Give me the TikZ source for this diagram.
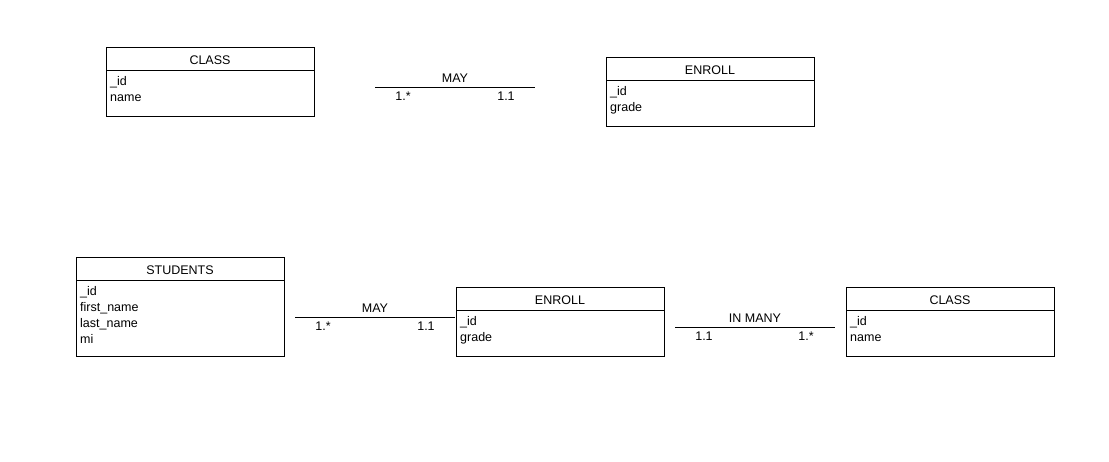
\documentclass[tikz,border=0pt]{standalone}
\usepackage{fontspec}
\setmainfont{Liberation Sans}
\begin{document}
\begin{tikzpicture}[x=1pt,y=-1pt,
  every node/.style={font=\fontsize{12.5}{15}\selectfont, inner sep=0pt},
  entity/.style={draw, line width=0.9pt, minimum width=208pt, anchor=north west, rectangle},
  divider/.style={line width=0.9pt},
  relline/.style={line width=0.9pt},
  title/.style={anchor=base},
  attr/.style={anchor=base west},
  card/.style={anchor=base}]
\useasboundingbox (0,0) rectangle (1109,461);
% top CLASS
\node[entity, minimum height=69pt] (c1) at (106,47) {};
\draw[divider] ([yshift=-23pt]c1.north west) -- ([yshift=-23pt]c1.north east);
\node[title] (c1t) at (210,64.5) {CLASS};
\node[attr] (c1a) at (110,85.5) {\_id};
\node[attr] (c1b) at (110,101.5) {name};
% top MAY
\coordinate (m1s) at (375,87);
\coordinate (m1e) at (535,87);
\draw[relline] (m1s) -- (m1e);
\node[card] (m1l) at (455,82.5) {MAY};
\node[card] (m1c1) at (403,100.5) {1.*};
\node[card] (m1c2) at (506,100.5) {1.1};
% top ENROLL
\node[entity, minimum height=69pt] (e1) at (606,57) {};
\draw[divider] ([yshift=-23pt]e1.north west) -- ([yshift=-23pt]e1.north east);
\node[title] (e1t) at (710,74.5) {ENROLL};
\node[attr] (e1a) at (610,95.5) {\_id};
\node[attr] (e1b) at (610,111.5) {grade};
% STUDENTS
\node[entity, minimum height=99pt] (s) at (76,257) {};
\draw[divider] ([yshift=-23pt]s.north west) -- ([yshift=-23pt]s.north east);
\node[title] (st) at (180,274.5) {STUDENTS};
\node[attr] (sa) at (80,295.5) {\_id};
\node[attr] (sb) at (80,311.5) {first\_name};
\node[attr] (sc) at (80,327.5) {last\_name};
\node[attr] (sd) at (80,343.5) {mi};
% bottom MAY
\coordinate (m2s) at (295,317);
\coordinate (m2e) at (455,317);
\draw[relline] (m2s) -- (m2e);
\node[card] (m2l) at (375,312.5) {MAY};
\node[card] (m2c1) at (323,330.5) {1.*};
\node[card] (m2c2) at (426,330.5) {1.1};
% bottom ENROLL
\node[entity, minimum height=69pt] (e2) at (456,287) {};
\draw[divider] ([yshift=-23pt]e2.north west) -- ([yshift=-23pt]e2.north east);
\node[title] (e2t) at (560,304.5) {ENROLL};
\node[attr] (e2a) at (460,325.5) {\_id};
\node[attr] (e2b) at (460,341.5) {grade};
% IN MANY
\coordinate (m3s) at (675,327);
\coordinate (m3e) at (835,327);
\draw[relline] (m3s) -- (m3e);
\node[card] (m3l) at (755,322.5) {IN MANY};
\node[card] (m3c1) at (704,340.5) {1.1};
\node[card] (m3c2) at (806,340.5) {1.*};
% bottom CLASS
\node[entity, minimum height=69pt] (c2) at (846,287) {};
\draw[divider] ([yshift=-23pt]c2.north west) -- ([yshift=-23pt]c2.north east);
\node[title] (c2t) at (950,304.5) {CLASS};
\node[attr] (c2a) at (850,325.5) {\_id};
\node[attr] (c2b) at (850,341.5) {name};
\end{tikzpicture}
\end{document}
